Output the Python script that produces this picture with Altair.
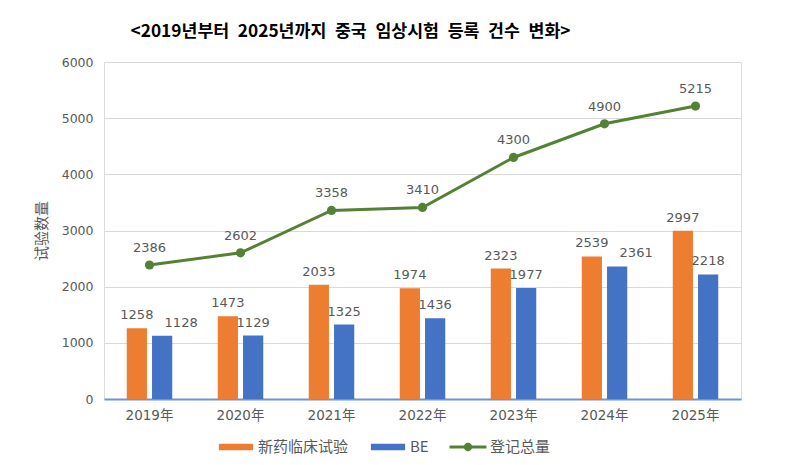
import altair as alt
import pandas as pd

# Registration counts by year
years = ["2019年", "2020年", "2021年", "2022年", "2023年", "2024年", "2025年"]
new_drug = [1258, 1473, 2033, 1974, 2323, 2539, 2997]
be = [1128, 1129, 1325, 1436, 1977, 2361, 2218]
total = [2386, 2602, 3358, 3410, 4300, 4900, 5215]

series_names = ["新药临床试验", "BE", "登记总量"]
series_colors = ["#ED7D31", "#4472C4", "#548235"]

# Legend swatches: wide bars for the two bar series, line-with-dot for the total
bar_swatch = "M-0.9,-0.17H0.9V0.17H-0.9Z"
line_swatch = ("M-0.97,-0.08H0.97V0.08H-0.97Z "
               "M-0.22,0A0.22,0.22 0 1,1 0.22,0A0.22,0.22 0 1,1 -0.22,0Z")

bars = pd.DataFrame({
    "year": years * 2,
    "series": [series_names[0]] * len(years) + [series_names[1]] * len(years),
    "value": new_drug + be,
})
line = pd.DataFrame({"year": years, "series": series_names[2], "value": total})

LATIN = "DejaVu Sans, Noto Sans CJK SC"
CJK = "Noto Sans CJK SC"
GRAY = "#595959"

x_enc = alt.X(
    "year:N", sort=years, title=None,
    scale=alt.Scale(paddingInner=0.5, paddingOuter=0.25),
    axis=alt.Axis(labelAngle=0, labelFont=LATIN, labelFontSize=13.5, labelColor=GRAY,
                  labelPadding=9, ticks=False, domainColor="#7092D6", domainWidth=2,
                  grid=False),
)
y_enc = alt.Y(
    "value:Q", title="试验数量",
    scale=alt.Scale(domain=[0, 6000], nice=False),
    axis=alt.Axis(values=[0, 1000, 2000, 3000, 4000, 5000, 6000], format="d",
                  labelFont=LATIN, labelFontSize=12.5, labelColor=GRAY, labelPadding=11,
                  ticks=False, domain=False, gridColor="#D9D9D9", gridWidth=1,
                  titleFont=CJK, titleFontSize=15, titleFontWeight="normal",
                  titleColor=GRAY, titlePadding=12),
)
color_scale = alt.Scale(domain=series_names, range=series_colors)

# Bars take their fill straight from the series name (no scale, so no extra legend)
bar_color_expr = (f"datum.series === '{series_names[1]}' ? '{series_colors[1]}' "
                  f": '{series_colors[0]}'")
bar_layer = alt.Chart(bars).transform_calculate(bar_color=bar_color_expr).mark_bar().encode(
    x=x_enc,
    xOffset=alt.XOffset("series:N", sort=series_names[:2],
                        scale=alt.Scale(paddingInner=0.2, paddingOuter=0)),
    y=y_enc,
    color=alt.Color("bar_color:N", scale=None),
)

bar_text_base = alt.Chart(bars).encode(
    x=alt.X("year:N", sort=years),
    xOffset=alt.XOffset("series:N", sort=series_names[:2]),
    y="value:Q",
    text="value:Q",
)
# BE labels for these years sit a little to the right of their bars
nudged_test = "datum.series === 'BE' && (datum.year === '2019年' || datum.year === '2024年')"
bar_text = bar_text_base.transform_filter("!(" + nudged_test + ")").mark_text(
    baseline="alphabetic", dy=-9, font=LATIN, fontSize=13, color=GRAY)
bar_text_nudged = bar_text_base.transform_filter(nudged_test).mark_text(
    baseline="alphabetic", dy=-9, dx=19, font=LATIN, fontSize=13, color=GRAY)

line_layer = alt.Chart(line).mark_line(strokeWidth=3, color=series_colors[2]).encode(
    x=alt.X("year:N", sort=years),
    y="value:Q",
)
point_layer = alt.Chart(line).mark_point(
    filled=True, size=85, opacity=1, color=series_colors[2]
).encode(
    x=alt.X("year:N", sort=years),
    y="value:Q",
)
line_text = alt.Chart(line).mark_text(
    baseline="alphabetic", dy=-13, font=LATIN, fontSize=13, color=GRAY
).encode(x=alt.X("year:N", sort=years), y="value:Q", text="value:Q")

legend_props = dict(
    title=None, orient="none", direction="horizontal", legendX=113, legendY=366,
    labelFont=CJK, labelFontSize=15, labelColor=GRAY, labelOffset=3,
    symbolSize=1444, symbolStrokeWidth=0, symbolOpacity=1,
    columnPadding=20, padding=0,
)

# Transparent layer that carries the combined legend
legend_layer = alt.Chart(line).mark_point(filled=True, opacity=0).encode(
    x=alt.X("year:N", sort=years),
    y="value:Q",
    color=alt.Color("series:N", scale=color_scale, legend=alt.Legend(**legend_props)),
    shape=alt.Shape(
        "series:N",
        scale=alt.Scale(domain=series_names, range=[bar_swatch, bar_swatch, line_swatch]),
        legend=alt.Legend(**legend_props),
    ),
)

title_text = "\u2002".join(["<2019년부터", "2025년까지", "중국", "임상시험", "등록", "건수", "변화>"])

chart = alt.layer(
    bar_layer, bar_text, bar_text_nudged, line_layer, point_layer, line_text, legend_layer
).properties(
    width=637,
    height=337,
    title=alt.TitleParams(
        text=title_text,
        font="Noto Sans CJK KR", fontSize=17.3, fontWeight="bold", color="black",
        anchor="middle", frame="group", dx=-72, offset=16,
    ),
    autosize=alt.AutoSizeParams(type="none"),
    padding={"left": 104, "top": 62, "right": 59, "bottom": 66},
).configure_view(stroke=None).configure(background="white")

chart.save("out.html", embed_options={"renderer": "svg", "actions": False})
